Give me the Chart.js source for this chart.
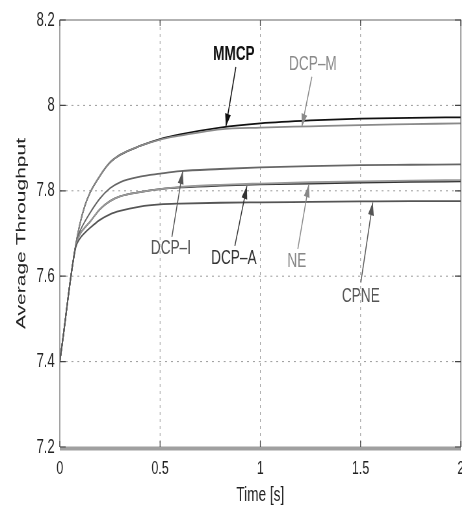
<!DOCTYPE html>
<html>
<head>
<meta charset="utf-8">
<script src="https://cdn.jsdelivr.net/npm/chart.js"></script>
<style>
  html, body { margin: 0; padding: 0; background: #fff; overflow: hidden; }
  #wrap { width: 462px; height: 506px; overflow: hidden; }
  /* the source figure is squeezed horizontally, so draw wide and squeeze */
  #myChart { transform: scaleX(0.65); transform-origin: 0 0; }
</style>
</head>
<body>
<div id="wrap"><canvas id="myChart" width="711" height="506"></canvas></div>
<script>
var times = [0, 0.02, 0.04, 0.06, 0.08, 0.1, 0.125, 0.15, 0.2, 0.25, 0.3, 0.4, 0.5, 0.6, 0.8, 1.0, 1.25, 1.5, 1.75, 2.0];
var mmcp = [7.40, 7.47, 7.545, 7.615, 7.675, 7.722, 7.765, 7.795, 7.835, 7.866, 7.884, 7.905, 7.921, 7.932, 7.948, 7.958, 7.965, 7.969, 7.971, 7.972];
var dcpM = [7.40, 7.47, 7.545, 7.615, 7.675, 7.722, 7.765, 7.795, 7.835, 7.866, 7.884, 7.905, 7.920, 7.929, 7.944, 7.948, 7.951, 7.954, 7.956, 7.958];
var dcpI = [7.40, 7.47, 7.545, 7.615, 7.675, 7.705, 7.728, 7.748, 7.782, 7.806, 7.820, 7.833, 7.840, 7.846, 7.851, 7.855, 7.858, 7.860, 7.861, 7.862];
var dcpA = [7.40, 7.47, 7.545, 7.615, 7.672, 7.698, 7.714, 7.727, 7.757, 7.776, 7.787, 7.797, 7.804, 7.808, 7.812, 7.815, 7.817, 7.819, 7.821, 7.822];
var ne   = [7.40, 7.47, 7.545, 7.615, 7.672, 7.698, 7.714, 7.727, 7.757, 7.776, 7.787, 7.797, 7.804, 7.809, 7.814, 7.817, 7.820, 7.822, 7.824, 7.825];
var cpne = [7.40, 7.47, 7.545, 7.615, 7.668, 7.688, 7.702, 7.713, 7.732, 7.745, 7.753, 7.763, 7.768, 7.770, 7.772, 7.773, 7.774, 7.775, 7.776, 7.776];
var xTicks = [0, 0.5, 1, 1.5, 2];
var yTicks = [7.2, 7.4, 7.6, 7.8, 8, 8.2];

// label text and arrows, in data units
var notes = [
  {text: "MMCP",  tx: 0.868, ty: 8.121, ax: 0.878, ay: 8.090, bx: 0.828, by: 7.950, color: "#111", bold: true},
  {text: "DCP–M", tx: 1.262, ty: 8.097, ax: 1.257, ay: 8.067, bx: 1.207, by: 7.950, color: "#8a8a8a"},
  {text: "DCP–I", tx: 0.554, ty: 7.666, ax: 0.559, ay: 7.692, bx: 0.613, by: 7.846, color: "#555"},
  {text: "DCP–A", tx: 0.868, ty: 7.641, ax: 0.873, ay: 7.671, bx: 0.933, by: 7.811, color: "#333"},
  {text: "NE",    tx: 1.182, ty: 7.634, ax: 1.187, ay: 7.664, bx: 1.242, by: 7.815, color: "#888"},
  {text: "CPNE",  tx: 1.501, ty: 7.552, ax: 1.501, ay: 7.585, bx: 1.561, by: 7.773, color: "#555"}
];

function pts(ys) {
  return times.map(function (t, i) { return {x: t, y: ys[i]}; });
}

function line(label, ys, color, w) {
  return {
    label: label, data: pts(ys), borderColor: color, borderWidth: w,
    pointRadius: 0, fill: false, cubicInterpolationMode: "monotone"
  };
}

var matlabBox = {
  id: "matlabBox",
  beforeDatasetsDraw: function (chart) {
    var ctx = chart.ctx, a = chart.chartArea;
    var xs = chart.scales.x, ys = chart.scales.y;
    ctx.save();
    ctx.strokeStyle = "#9a9a9a";
    ctx.lineWidth = 1;
    ctx.setLineDash([3, 4]);
    xTicks.slice(1, -1).forEach(function (v) {
      var px = xs.getPixelForValue(v);
      ctx.beginPath(); ctx.moveTo(px, a.top); ctx.lineTo(px, a.bottom); ctx.stroke();
    });
    ctx.setLineDash([3, 6]);
    yTicks.slice(1, -1).forEach(function (v) {
      var py = ys.getPixelForValue(v);
      ctx.beginPath(); ctx.moveTo(a.left, py); ctx.lineTo(a.right, py); ctx.stroke();
    });
    ctx.restore();
  },
  afterDatasetsDraw: function (chart) {
    var ctx = chart.ctx, a = chart.chartArea;
    var xs = chart.scales.x, ys = chart.scales.y;
    ctx.save();
    // frame
    ctx.strokeStyle = "#666";
    ctx.lineWidth = 1.2;
    ctx.beginPath();
    ctx.moveTo(a.left, a.bottom); ctx.lineTo(a.left, a.top);
    ctx.lineTo(a.right, a.top); ctx.lineTo(a.right, a.bottom);
    ctx.stroke();
    ctx.strokeStyle = "#a0a0a0";
    ctx.lineWidth = 4;
    ctx.beginPath(); ctx.moveTo(a.left, a.bottom + 1.5); ctx.lineTo(a.right, a.bottom + 1.5); ctx.stroke();
    // inward ticks
    ctx.strokeStyle = "#444";
    ctx.lineWidth = 1.2;
    xTicks.forEach(function (v) {
      var px = xs.getPixelForValue(v);
      ctx.beginPath();
      ctx.moveTo(px, a.bottom); ctx.lineTo(px, a.bottom - 6);
      ctx.moveTo(px, a.top); ctx.lineTo(px, a.top + 6);
      ctx.stroke();
    });
    yTicks.forEach(function (v) {
      var py = ys.getPixelForValue(v);
      ctx.beginPath();
      ctx.moveTo(a.left, py); ctx.lineTo(a.left + 9, py);
      ctx.moveTo(a.right, py); ctx.lineTo(a.right - 9, py);
      ctx.stroke();
    });
    // labels with arrows
    notes.forEach(function (n) {
      var x0 = xs.getPixelForValue(n.ax), y0 = ys.getPixelForValue(n.ay);
      var x1 = xs.getPixelForValue(n.bx), y1 = ys.getPixelForValue(n.by);
      var ang = Math.atan2(y1 - y0, x1 - x0);
      ctx.strokeStyle = n.color;
      ctx.fillStyle = n.color;
      ctx.lineWidth = 1.5;
      ctx.beginPath(); ctx.moveTo(x0, y0); ctx.lineTo(x1, y1); ctx.stroke();
      var hl = 13, hw = 4.5;
      ctx.beginPath();
      ctx.moveTo(x1, y1);
      ctx.lineTo(x1 - hl * Math.cos(ang) + hw * Math.sin(ang), y1 - hl * Math.sin(ang) - hw * Math.cos(ang));
      ctx.lineTo(x1 - hl * Math.cos(ang) - hw * Math.sin(ang), y1 - hl * Math.sin(ang) + hw * Math.cos(ang));
      ctx.closePath();
      ctx.fill();
      ctx.font = (n.bold ? "bold " : "") + "21px 'Liberation Sans', Arial, sans-serif";
      ctx.textAlign = "center";
      ctx.textBaseline = "middle";
      ctx.fillText(n.text, xs.getPixelForValue(n.tx), ys.getPixelForValue(n.ty));
    });
    ctx.restore();
  }
};

new Chart("myChart", {
  type: "line",
  data: {
    datasets: [
      line("CPNE", cpne, "#555", 1.8),
      line("NE", ne, "#999", 1.8),
      line("DCP-A", dcpA, "#333", 1.8),
      line("DCP-I", dcpI, "#666", 1.8),
      line("DCP-M", dcpM, "#8a8a8a", 1.8),
      line("MMCP", mmcp, "#111", 1.8)
    ]
  },
  options: {
    responsive: false,
    animation: false,
    layout: {padding: {left: 0, right: 2, top: 18, bottom: 0}},
    plugins: {legend: {display: false}, tooltip: {enabled: false}},
    scales: {
      x: {
        type: "linear", min: 0, max: 2,
        afterBuildTicks: function (s) { s.ticks = xTicks.map(function (v) { return {value: v}; }); },
        afterFit: function (s) { s.height = 59; s.paddingLeft = 0; s.paddingRight = 0; },
        grid: {display: false, drawTicks: false},
        border: {display: false},
        ticks: {
          padding: 10, color: "#222", maxRotation: 0, autoSkip: false,
          font: {family: "'Liberation Sans', Arial, sans-serif", size: 19},
          callback: function (v) { return String(+v.toFixed(2)); }
        },
        title: {
          display: true, text: "Time [s]", color: "#222",
          font: {family: "'Liberation Sans', Arial, sans-serif", size: 21, lineHeight: 1},
          padding: {top: 0, bottom: 0}
        }
      },
      y: {
        min: 7.2, max: 8.2,
        afterBuildTicks: function (s) { s.ticks = yTicks.map(function (v) { return {value: v}; }); },
        afterFit: function (s) { s.width = 92; },
        grid: {display: false, drawTicks: false},
        border: {display: false},
        ticks: {
          padding: 8, color: "#222",
          font: {family: "'Liberation Sans', Arial, sans-serif", size: 20},
          callback: function (v) { return String(+v.toFixed(1)); }
        },
        title: {
          display: true, text: "Average Throughput", color: "#222",
          font: {family: "'Liberation Sans', Arial, sans-serif", size: 21, lineHeight: 1},
          padding: {top: 23, bottom: 0}
        }
      }
    }
  },
  plugins: [matlabBox]
});
</script>
</body>
</html>
